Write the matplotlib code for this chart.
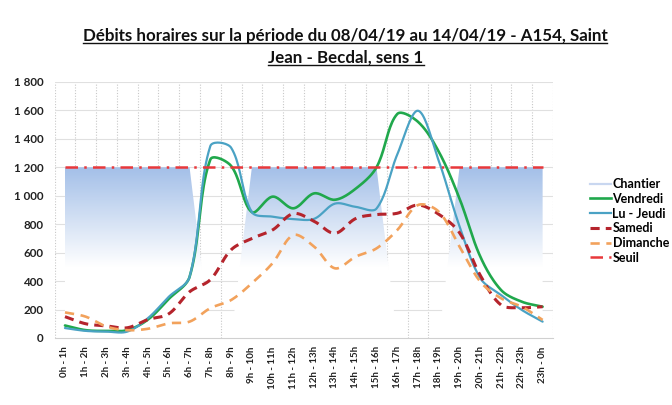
import numpy as np
import matplotlib
matplotlib.use("Agg")
import matplotlib.pyplot as plt
from matplotlib.lines import Line2D

# heures (categories)
hours = ["0h - 1h", "1h - 2h", "2h - 3h", "3h - 4h", "4h - 5h", "5h - 6h",
         "6h - 7h", "7h - 8h", "8h - 9h", "9h - 10h", "10h - 11h", "11h - 12h",
         "12h - 13h", "13h - 14h", "14h - 15h", "15h - 16h", "16h - 17h",
         "17h - 18h", "18h - 19h", "19h - 20h", "20h - 21h", "21h - 22h",
         "22h - 23h", "23h - 0h"]

chantier = [1200, 1200, 1200, 1200, 1200, 1200, 1200, 0, 0,
            1200, 1200, 1200, 1200, 1200, 1200, 1200, 0, 0, 0,
            1200, 1200, 1200, 1200, 1200]
vendredi = [88, 55, 50, 55, 130, 275, 430, 1255, 1210, 885, 994, 912,
            1017, 972, 1050, 1200, 1575, 1520, 1310, 980, 572, 337, 255, 220]
lu_jeudi = [70, 50, 45, 45, 140, 290, 430, 1350, 1338, 885, 853, 836,
            838, 945, 922, 910, 1290, 1598, 1245, 785, 420, 302, 197, 115]
samedi = [150, 100, 85, 72, 130, 170, 325, 410, 620, 700, 760, 875,
          820, 736, 840, 868, 877, 935, 870, 740, 440, 232, 213, 220]
dimanche = [180, 150, 80, 55, 65, 103, 115, 210, 267, 385, 527, 724,
            642, 490, 572, 630, 759, 935, 888, 642, 396, 279, 220, 127]
seuil = [1200] * 24

yticks = [0, 200, 400, 600, 800, 1000, 1200, 1400, 1600, 1800]
ytick_labels = ["0", "200", "400", "600", "800", "1 000", "1 200", "1 400", "1 600", "1 800"]

title1 = "Débits horaires sur la période du 08/04/19 au 14/04/19 - A154, Saint"
title2 = "Jean - Becdal, sens 1"

plt.rcParams["font.family"] = ["Lato", "DejaVu Sans"]

W, H = 672, 405
fig = plt.figure(figsize=(W / 100, H / 100), dpi=100)
ax_l, ax_r, ax_t, ax_b = 54.6, 553.0, 82.0, 338.0
ax = fig.add_axes([ax_l / W, 1 - ax_b / H, (ax_r - ax_l) / W, (ax_b - ax_t) / H])

x = np.arange(len(hours))
ax.set_xlim(-0.5, len(hours) - 0.5)
ax.set_ylim(0, 1800)

sx = (ax_r - ax_l) / len(hours)
sy = (ax_b - ax_t) / 1800.0


def excel_smooth(xs, ys, n=20):
    # bezier lissage facon Excel (calcul en pixels)
    P = np.column_stack([np.asarray(xs, float) * sx, np.asarray(ys, float) * sy])
    N = len(P)
    out = [P[0]]
    for i in range(N - 1):
        p0 = P[i - 1] if i > 0 else P[i]
        p1, p2 = P[i], P[i + 1]
        p3 = P[i + 2] if i + 2 < N else P[i + 1]
        d01 = np.hypot(*(p1 - p0))
        d12 = np.hypot(*(p2 - p1))
        d23 = np.hypot(*(p3 - p2))
        c1 = p1 + (p2 - p0) * (d12 / (d01 + d12)) / 3 if d01 + d12 > 0 else p1
        c2 = p2 - (p3 - p1) * (d12 / (d12 + d23)) / 3 if d12 + d23 > 0 else p2
        t = np.linspace(0, 1, n + 1)[1:, None]
        seg = (1 - t) ** 3 * p1 + 3 * (1 - t) ** 2 * t * c1 + 3 * (1 - t) * t ** 2 * c2 + t ** 3 * p2
        out.extend(seg)
    out = np.array(out)
    return out[:, 0] / sx, out[:, 1] / sy


# grille
for xb in np.arange(-0.5, len(hours), 1.0):
    ax.axvline(xb, color="#c8c8c8", lw=0.8, ls=(0, (1, 1.5)), zorder=0)
for yt in yticks[1:]:
    ax.axhline(yt, color="#e0e0e0", lw=0.8, zorder=0)

# Chantier : aire en degrade
poly = ax.fill_between(x, 0, chantier, facecolor="none", edgecolor="none", zorder=1)
top = np.array([0.64, 0.75, 0.91])
vals = np.linspace(0, 1200, 300)
tt = np.clip((vals - 500) / (1200 - 500), 0, 1)
grad = (1 - tt)[:, None] * np.ones(3) + tt[:, None] * top
img = ax.imshow(grad[:, None, :], extent=[x[0], x[-1], 0, 1200], origin="lower",
                aspect="auto", zorder=1, interpolation="bilinear")
img.set_clip_path(poly.get_paths()[0], transform=ax.transData)

c_vend = "#20a84c"
c_lu = "#4aa2c4"
c_sam = "#b5242c"
c_dim = "#f2a25c"
c_seuil = "#e8383b"

ax.plot(*excel_smooth(x, vendredi), color=c_vend, lw=1.9, zorder=3, solid_capstyle="round")
ax.plot(*excel_smooth(x, lu_jeudi), color=c_lu, lw=1.6, zorder=3, solid_capstyle="round")
ax.plot(*excel_smooth(x, samedi), color=c_sam, lw=2.2, ls=(0, (3, 2)), zorder=4)
ax.plot(*excel_smooth(x, dimanche), color=c_dim, lw=1.9, ls=(0, (3.5, 2.5)), zorder=4)
ax.plot(x, seuil, color=c_seuil, lw=1.8, ls=(0, (5, 2.5, 1, 2.5)), zorder=5)

for s in ["top", "right", "left"]:
    ax.spines[s].set_visible(False)
ax.spines["bottom"].set_color("#d0d0d0")

ax.set_xticks(x)
ax.set_xticklabels(hours, rotation=90, fontsize=7.0, fontweight="bold", color="#222222")
ax.set_yticks(yticks)
ax.set_yticklabels(ytick_labels, fontsize=8.4, fontweight="bold", color="#222222")
ax.tick_params(axis="y", length=0, pad=8)
ax.tick_params(axis="x", length=0, pad=6)

handles = [
    Line2D([], [], color="#c9d7f0", lw=1.6),
    Line2D([], [], color=c_vend, lw=1.9),
    Line2D([], [], color=c_lu, lw=1.6),
    Line2D([], [], color=c_sam, lw=2.2, ls=(0, (3, 2))),
    Line2D([], [], color=c_dim, lw=1.9, ls=(0, (3.5, 2.5))),
    Line2D([], [], color=c_seuil, lw=1.8, ls=(0, (5, 2.5, 1, 2.5))),
]
labels = ["Chantier", "Vendredi", "Lu - Jeudi", "Samedi", "Dimanche", "Seuil"]
fig.legend(handles, labels, loc="upper left", bbox_to_anchor=(590 / W, 1 - 178 / H),
           frameon=False, handlelength=1.7, handletextpad=0.1, labelspacing=0.22,
           prop={"weight": "bold", "size": 9.0}, borderaxespad=0, borderpad=0)

# titre souligne
t1 = fig.text(345 / W, 1 - 36 / H, title1, ha="center", va="center",
              fontsize=12.2, fontweight="bold", color="#111111")
t2 = fig.text(346 / W, 1 - 58 / H, title2, ha="center", va="center",
              fontsize=12.2, fontweight="bold", color="#111111")
fig.canvas.draw()
r = fig.canvas.get_renderer()
for t in (t1, t2):
    bb = t.get_window_extent(r)
    yl = (bb.y0 + 1.5) / H
    fig.add_artist(Line2D([bb.x0 / W, bb.x1 / W], [yl, yl], color="#111111", lw=1.0))

fig.savefig("out.png", dpi=100)
